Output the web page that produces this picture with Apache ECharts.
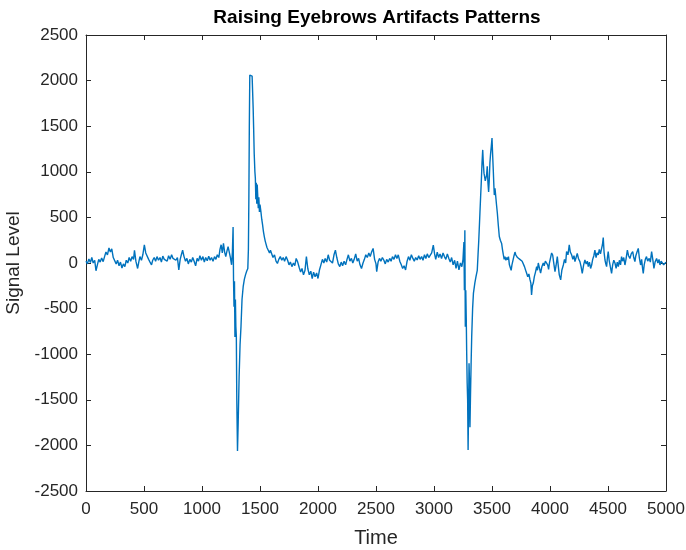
<!DOCTYPE html>
<html>
<head>
<meta charset="utf-8">
<script src="https://cdn.jsdelivr.net/npm/echarts@6/dist/echarts.min.js"></script>
<style>
html,body{margin:0;padding:0;background:#fff;}
#chart{width:686px;height:550px;}
</style>
</head>
<body>
<div id="chart"></div>
<script>
const title = 'Raising Eyebrows Artifacts Patterns';
const xName = 'Time';
const yName = 'Signal Level';
const xTicks = [0,500,1000,1500,2000,2500,3000,3500,4000,4500,5000];
const yTicks = [-2500,-2000,-1500,-1000,-500,0,500,1000,1500,2000,2500];

const time = [
0,12,25,38,50,62,75,86,98,110,122,135,148,160,172,185,198,210,222,235,248,260,272,285,297,310,322,335,347,360,372,385,397,410,418,430,445,455,465,478,490,503,515,530,540,552,565,575,588,600,612,625,638,650,662,675,688,700,712,725,738,750,762,775,788,800,812,822,833,845,858,870,882,895,908,920,932,945,958,970,982,995,1008,1020,1032,1045,1058,1070,1082,1095,1108,1120,1132,1145,1155,1165,1175,1185,1195,1205,1215,1225,1235,1245,1255,1262,1268,1272,1276,1280,1284,1288,1292,1296,1300,1306,1312,1320,1328,1336,1345,1355,1365,1375,1385,1395,1400,1404,1408,1412,1418,1425,1432,1437,1441,1445,1450,1456,1460,1464,1468,1472,1476,1480,1485,1490,1495,1500,1508,1515,1522,1530,1537,1545,1552,1560,1567,1575,1582,1590,
1600,1612,1625,1638,1650,1662,1675,1688,1700,1712,1725,1738,1750,1762,1775,1788,1800,1812,1825,1838,1850,1862,1875,1888,1900,1912,1925,1938,1950,1962,1975,1988,2000,2012,2025,2038,2050,2062,2075,2088,2100,2112,2125,2138,2150,2162,2175,2188,2200,2212,2225,2238,2250,2262,2275,2288,2300,2312,2325,2338,2350,2362,2375,2388,2400,2412,2425,2438,2450,2462,2475,2488,2500,2506,2518,2530,2542,2555,2568,2580,2592,2605,2618,2630,2642,2655,2668,2680,2692,2705,2718,2730,2742,2755,2768,2780,2792,2805,2818,2830,2842,2855,2868,2880,2893,2905,2918,2930,2942,2955,2968,2980,2994,3005,3015,3028,3040,3052,3065,3078,3090,3102,3115,3128,3140,3152,3165,3178,3190,3202,3215,3228,3240,3250,3258,3262,3266,3270,3274,3278,3282,3286,3290,3294,3298,3302,3306,3310,3314,3320,3325,3333,3340,3345,3352,3362,3373,3380,3386,3391,3396,3402,3408,3414,3420,3425,3431,3436,3442,3448,3453,3459,3465,3471,3476,3482,3488,3494,3500,3505,3511,3516,3520,3526,3531,3538,3546,3554,3563,3572,3583,3590,3598,3605,3612,3620,3628,3635,3642,3650,3658,3665,3672,3680,3690,3698,3705,3712,3720,3730,3740,3750,3760,3770,3780,3790,3798,3808,3818,3827,3835,3841,3848,3856,3865,3875,3885,3892,3899,3908,3919,3930,3942,3950,3960,3971,3980,3988,3995,
4005,4014,4023,4030,4043,4052,4063,4072,4080,4092,4102,4115,4125,4135,4143,4155,4166,4175,4187,4197,4207,4215,4225,4235,4245,4258,4268,4278,4290,4301,4312,4322,4330,4340,4350,4359,4368,4378,4387,4397,4406,4416,4425,4435,4445,4452,4459,4466,4474,4481,4488,4495,4502,4510,4520,4531,4540,4550,4560,4570,4580,4589,4598,4608,4617,4626,4636,4646,4655,4667,4677,4689,4700,4713,4722,4732,4740,4750,4761,4770,4781,4790,4798,4804,4812,4822,4832,4842,4855,4865,4876,4886,4896,4906,4919,4930,4940,4948,4958,4971,4980,4990,5000
];
const level = [
20,-10,45,5,60,0,30,-85,-20,40,10,55,15,70,120,90,165,120,155,60,40,-10,30,-30,10,-55,-10,-40,30,0,60,20,70,40,140,20,-60,10,70,30,90,200,110,125,40,10,-20,30,60,20,70,30,60,10,75,40,60,20,80,40,90,50,70,30,60,-75,40,90,140,70,20,50,-10,40,10,60,20,-30,50,20,80,30,70,10,60,25,75,30,60,20,70,40,90,60,150,200,110,215,120,70,130,180,120,60,-20,120,395,-200,-480,-200,-810,-400,-700,-800,-1500,-2060,-1750,-1250,-900,-700,-400,-260,-180,-130,-90,-60,150,700,1500,2060,2060,2060,2050,2060,1700,1490,1200,1000,930,700,880,650,860,750,600,720,560,640,560,480,420,340,290,240,260,170,150,180,110,140,
120,60,90,20,-5,40,70,30,60,20,70,30,-20,10,-40,0,-30,50,10,-50,-100,-60,-130,-80,70,-60,-130,-90,-170,-100,-150,-110,-170,-80,-20,40,0,50,10,90,30,50,0,90,140,60,-10,-40,10,-30,20,-20,40,90,20,50,0,40,100,20,50,-20,-60,0,40,90,60,110,70,120,160,40,-10,-95,10,50,20,60,30,-10,40,10,50,20,70,40,90,50,90,20,-20,-60,-30,-76,20,70,30,90,50,20,60,33,80,40,70,30,90,50,100,60,40,110,196,100,40,120,60,100,50,110,70,40,100,50,10,60,-20,30,-60,20,-76,0,-40,40,230,-300,360,-700,-300,-600,-1000,-1315,-1500,-2050,-1600,-1100,-1300,-1800,-1500,-1100,-810,-495,-330,-330,-220,-150,-80,100,250,400,550,730,900,1100,1240,1100,985,950,900,880,960,1060,880,780,900,1100,1200,1280,1370,1200,1020,850,745,820,800,650,548,420,290,250,215,150,88,40,70,30,60,35,70,-20,0,-80,-20,0,80,120,90,100,60,70,40,60,20,0,-40,-80,-110,-150,-120,-180,-220,-350,-250,-220,-150,-100,-40,-80,0,-50,-110,-40,0,-30,20,40,-20,-70,0,
20,110,88,20,-95,-30,70,-40,-130,-185,-80,-22,40,0,125,90,200,120,88,40,80,15,60,105,50,15,-40,-113,-20,33,-10,20,-40,10,-60,-22,40,80,142,60,110,88,150,100,160,200,278,120,33,-10,-40,60,125,30,-40,-113,-20,30,0,-60,10,-40,30,-20,70,20,60,-22,40,142,80,50,100,125,60,15,80,120,160,60,-22,40,-60,-113,-20,40,70,20,50,10,125,40,-58,10,50,0,40,-22,20,15,-20,0,10
];

const data = time.map((t, i) => [t, level[i]]);

const chart = echarts.init(document.getElementById('chart'), null, {renderer: 'canvas'});
const axisColor = '#262626';
const font = 'Liberation Sans, Arial, Helvetica, sans-serif';
const plain = v => String(v);
const baseAxis = {
  axisLine: {show: true, onZero: false, lineStyle: {color: axisColor, width: 1}},
  axisTick: {show: true, inside: true, length: 5, lineStyle: {color: axisColor, width: 1}},
  splitLine: {show: false}
};
chart.setOption({
  animation: false,
  backgroundColor: '#ffffff',
  title: {
    text: title, left: 372, top: 3, textAlign: 'center',
    textStyle: {fontFamily: font, fontSize: 19, fontWeight: 'bold', color: '#000'}
  },
  grid: {left: 86, right: 20, top: 35, bottom: 59, containLabel: false, outerBoundsMode: 'none'},
  xAxis: [
    Object.assign({}, baseAxis, {
      type: 'value', min: xTicks[0], max: xTicks[xTicks.length-1], interval: xTicks[1]-xTicks[0],
      position: 'bottom',
      name: xName, nameLocation: 'middle', nameGap: 37,
      nameTextStyle: {fontFamily: font, fontSize: 20, color: axisColor},
      axisLabel: {fontFamily: font, fontSize: 17, color: axisColor, margin: 10, formatter: plain}
    }),
    Object.assign({}, baseAxis, {
      type: 'value', min: xTicks[0], max: xTicks[xTicks.length-1], interval: xTicks[1]-xTicks[0],
      position: 'top', axisLabel: {show: false}
    })
  ],
  yAxis: [
    Object.assign({}, baseAxis, {
      type: 'value', min: yTicks[0], max: yTicks[yTicks.length-1], interval: yTicks[1]-yTicks[0],
      position: 'left',
      name: yName, nameLocation: 'middle', nameGap: 57, nameRotate: 90,
      nameTextStyle: {fontFamily: font, fontSize: 19, color: axisColor},
      axisLabel: {fontFamily: font, fontSize: 17, color: axisColor, margin: 8, formatter: plain}
    }),
    Object.assign({}, baseAxis, {
      type: 'value', min: yTicks[0], max: yTicks[yTicks.length-1], interval: yTicks[1]-yTicks[0],
      position: 'right', axisLabel: {show: false}
    })
  ],
  series: [{
    type: 'line',
    data: data,
    xAxisIndex: 0, yAxisIndex: 0,
    showSymbol: false,
    lineStyle: {color: '#0072BD', width: 1.4},
    silent: true
  }]
});
</script>
</body>
</html>
